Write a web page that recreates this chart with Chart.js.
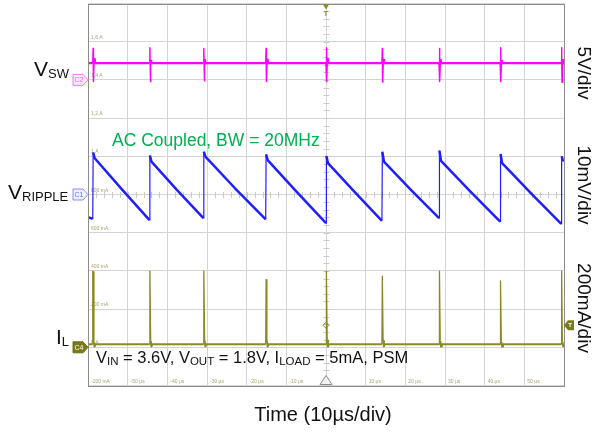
<!DOCTYPE html>
<html>
<head>
<meta charset="utf-8">
<title>PSM switching waveforms</title>
<script src="https://cdn.jsdelivr.net/npm/chart.js@4.4.1/dist/chart.umd.min.js"></script>
<style>
  html, body { margin: 0; padding: 0; background: #fff; }
  canvas { display: block; }
</style>
</head>
<body>
<canvas id="scope" width="593" height="432"></canvas>
<script>
'use strict';

/* ---- trace data (time in µs) ---- */

// switch node, V
const swTime = [-60,
  -58.8, -58.7, -58.65, -58.6, -58.45, -58.3,
  -44.5, -44.4, -44.35, -44.3, -44.15, -44.0,
  -30.9, -30.8, -30.75, -30.7, -30.55, -30.4,
  -15.2, -15.1, -15.05, -15.0, -14.85, -14.7,
  0.0, 0.1, 0.15, 0.2, 0.35, 0.5,
  14.1, 14.2, 14.25, 14.3, 14.45, 14.6,
  28.5, 28.6, 28.65, 28.7, 28.85, 29.0,
  43.9, 44.0, 44.05, 44.1, 44.25, 44.4,
  59.3, 59.4, 59.45, 59.5, 59.65, 59.8, 60];
const swVolt = [2.2,
  2.2, 4.1, 2.6, -0.2, 2.7, 2.2,
  2.2, 4.2, 2.5, -0.2, 2.6, 2.2,
  2.2, 4.1, 2.6, -0.1, 2.7, 2.2,
  2.2, 4.1, 2.5, -0.2, 2.6, 2.2,
  2.2, 4.2, 2.6, -0.2, 2.7, 2.2,
  2.2, 4.1, 2.5, -0.3, 2.6, 2.2,
  2.2, 4.1, 2.6, -0.2, 2.7, 2.2,
  2.2, 4.2, 2.5, -0.2, 2.6, 2.2,
  2.2, 4.2, 2.6, -0.3, 2.7, 2.2, 2.2];

// output ripple (AC coupled), mV
const ripTime = [-60, -58.8,
  -58.7, -58.3, -51.5, -44.5,
  -44.4, -44.0, -37.6, -30.9,
  -30.8, -30.4, -23.0, -15.2,
  -15.1, -14.7, -7.5, 0.0,
  0.1, 0.5, 7.2, 14.1,
  14.2, 14.6, 21.4, 28.5,
  28.6, 29.0, 36.3, 43.9,
  44.0, 44.4, 51.7, 59.3,
  59.4, 59.7, 60];
const ripMv = [-5.9, -6.4,
  11.0, 9.5, 1.4, -6.7,
  10.2, 8.6, 1.2, -6.2,
  11.2, 9.9, 1.7, -6.5,
  10.5, 9.0, 0.8, -7.5,
  10.1, 8.2, 0.7, -6.9,
  11.2, 8.6, 1.2, -6.2,
  11.5, 8.8, 0.9, -7.1,
  10.6, 8.2, 0.3, -7.7,
  10.0, 9.0, 8.8];

// inductor current, mA
const ilTime = [-60,
  -58.95, -58.85, -58.75, -58.6, -58.5, -58.35, -58.1,
  -44.5, -44.4, -44.2, -44.0, -43.8,
  -30.9, -30.8, -30.6, -30.4, -30.2,
  -15.2, -15.1, -14.9, -14.7, -14.5,
  0.0, 0.1, 0.3, 0.5, 0.7,
  14.1, 14.2, 14.4, 14.6, 14.8,
  28.5, 28.6, 28.8, 29.0, 29.2,
  43.9, 44.0, 44.2, 44.4, 44.6,
  59.3, 59.4, 59.6, 59.8, 60];
const ilMa = [16,
  16, 399, 30, 395, 25, 4, 16,
  16, 399, 35, 4, 16,
  16, 399, 35, 5, 16,
  16, 354, 32, 4, 16,
  16, 399, 35, 4, 16,
  16, 372, 33, 5, 16,
  16, 399, 35, 4, 16,
  16, 347, 30, 4, 16,
  16, 399, 30, 5, 16];

// on-screen graticule labels (C4 scale) and time labels
const ilGridValues = [1600, 1400, 1200, 1000, 800, 600, 400, 200, 0, -200];
const ilGridLabels = ['1,6 A', '1,4 A', '1,2 A', '1 A', '800 mA', '600 mA', '400 mA', '200 mA', '0 A', '-200 mA'];
const timeLabelValues = [-50, -40, -30, -20, -10, 10, 20, 30, 40, 50];

const trigTime = 0;
const trigLevelMa = 115;

const COLORS = {
  sw: '#ff00ff',
  rip: '#1f1fff',
  il: '#8a8a20',
  grid: '#d4d4d4',
  frame: '#8c8c8c',
  tiny: '#aaa274',
  note: '#00b050',
  text: '#111111',
};
const FONT = '"Liberation Sans", Arial, sans-serif';

const toPoints = (xs, ys) => xs.map((x, i) => ({ x, y: ys[i] }));

// fast edges (steep slope per µs) are drawn thinner than the slow parts
const edgeWidth = (slopeLimit, thin, thick) => ctx => {
  const dx = ctx.p1.parsed.x - ctx.p0.parsed.x;
  const dy = Math.abs(ctx.p1.parsed.y - ctx.p0.parsed.y);
  return dy > slopeLimit * dx ? thin : thick;
};

/* ---- drawing helpers ---- */
function richText(ctx, x, y, parts, size, subSize, color) {
  ctx.fillStyle = color;
  ctx.textAlign = 'left';
  ctx.textBaseline = 'alphabetic';
  let cx = x;
  for (const [txt, sub] of parts) {
    ctx.font = `${sub ? subSize : size}px ${FONT}`;
    ctx.fillText(txt, cx, sub ? y + 2 : y);
    cx += ctx.measureText(txt).width;
  }
}

function channelTag(ctx, tipX, y, label, stroke, fill, textColor) {
  ctx.beginPath();
  ctx.moveTo(tipX - 15, y - 5.5);
  ctx.lineTo(tipX - 5, y - 5.5);
  ctx.lineTo(tipX, y);
  ctx.lineTo(tipX - 5, y + 5.5);
  ctx.lineTo(tipX - 15, y + 5.5);
  ctx.closePath();
  ctx.fillStyle = fill;
  ctx.fill();
  ctx.strokeStyle = stroke;
  ctx.lineWidth = 1;
  ctx.stroke();
  ctx.fillStyle = textColor;
  ctx.font = `7px ${FONT}`;
  ctx.textAlign = 'center';
  ctx.textBaseline = 'middle';
  ctx.fillText(label, tipX - 9, y + 0.5);
}

const scopePlugin = {
  id: 'scopeDecor',
  beforeDatasetsDraw(chart) {
    const { ctx, chartArea: a, scales } = chart;
    const cx = scales.x.getPixelForValue(0);
    const cy = scales.yRip.getPixelForValue(0);
    const divX = (a.right - a.left) / 12;
    const divY = (a.bottom - a.top) / 10;
    ctx.save();

    // minor ticks on the centre axes
    ctx.strokeStyle = '#cacaca';
    ctx.lineWidth = 1;
    ctx.beginPath();
    for (let yy = a.top; yy <= a.bottom + 0.1; yy += divY / 5) {
      ctx.moveTo(cx - 2.5, Math.round(yy) + 0.5);
      ctx.lineTo(cx + 3.5, Math.round(yy) + 0.5);
    }
    for (let xx = a.left; xx <= a.right + 0.1; xx += divX / 5) {
      ctx.moveTo(Math.round(xx) + 0.5, cy - 2.5);
      ctx.lineTo(Math.round(xx) + 0.5, cy + 3.5);
    }
    ctx.stroke();

    // graticule labels
    ctx.font = `5px ${FONT}`;
    ctx.fillStyle = COLORS.tiny;
    ctx.textAlign = 'left';
    ctx.textBaseline = 'alphabetic';
    ilGridValues.forEach((v, i) => {
      ctx.fillText(ilGridLabels[i], a.left + 3, scales.yIl.getPixelForValue(v) - 3);
    });
    timeLabelValues.forEach(t => {
      ctx.fillText(`${t} µs`, scales.x.getPixelForValue(t) + 3, a.bottom - 3);
    });
    ctx.restore();
  },
  afterDatasetsDraw(chart) {
    const { ctx, chartArea: a, scales } = chart;
    const tx = scales.x.getPixelForValue(trigTime);
    const ty = scales.yIl.getPixelForValue(trigLevelMa);
    ctx.save();

    // frame
    ctx.strokeStyle = COLORS.frame;
    ctx.lineWidth = 1;
    ctx.strokeRect(Math.round(a.left) + 0.5, Math.round(a.top) + 0.5,
      Math.round(a.right - a.left), Math.round(a.bottom - a.top));

    // trigger position marker (top)
    ctx.fillStyle = COLORS.il;
    ctx.beginPath();
    ctx.moveTo(tx - 3, a.top + 1);
    ctx.lineTo(tx + 3, a.top + 1);
    ctx.lineTo(tx, a.top + 6);
    ctx.closePath();
    ctx.fill();
    ctx.font = `bold 7px ${FONT}`;
    ctx.textAlign = 'center';
    ctx.textBaseline = 'top';
    ctx.fillText('T', tx, a.top + 7);

    // time reference marker (bottom)
    ctx.beginPath();
    ctx.moveTo(tx, a.bottom - 10);
    ctx.lineTo(tx + 6, a.bottom - 1);
    ctx.lineTo(tx - 6, a.bottom - 1);
    ctx.closePath();
    ctx.fillStyle = '#f2f2f2';
    ctx.fill();
    ctx.strokeStyle = '#8c8c8c';
    ctx.stroke();

    // trigger point diamond
    ctx.strokeStyle = COLORS.il;
    ctx.beginPath();
    ctx.moveTo(tx, ty - 3);
    ctx.lineTo(tx + 3, ty);
    ctx.lineTo(tx, ty + 3);
    ctx.lineTo(tx - 3, ty);
    ctx.closePath();
    ctx.stroke();

    // trigger level tag (right edge)
    ctx.beginPath();
    ctx.moveTo(a.right, ty);
    ctx.lineTo(a.right + 4, ty - 5);
    ctx.lineTo(a.right + 10, ty - 5);
    ctx.lineTo(a.right + 10, ty + 5);
    ctx.lineTo(a.right + 4, ty + 5);
    ctx.closePath();
    ctx.fillStyle = '#7a7a1a';
    ctx.fill();
    ctx.fillStyle = '#fff';
    ctx.font = `bold 6px ${FONT}`;
    ctx.textBaseline = 'middle';
    ctx.fillText('T', a.right + 6, ty + 0.5);

    // channel ground tags (left edge)
    channelTag(ctx, a.left, scales.ySw.getPixelForValue(0), 'C2', '#ff70ff', '#ffeaff', '#ff60ff');
    channelTag(ctx, a.left, scales.yRip.getPixelForValue(0), 'C1', '#8c8cff', '#eef0ff', '#7070ff');
    channelTag(ctx, a.left, scales.yIl.getPixelForValue(0), 'C4', '#6e6e14', '#7a7a1a', '#ffffff');

    // trace names
    richText(ctx, 34, 76, [['V', false], ['SW', true]], 21, 13, COLORS.text);
    richText(ctx, 8, 199, [['V', false], ['RIPPLE', true]], 21, 13, COLORS.text);
    richText(ctx, 56, 344, [['I', false], ['L', true]], 21, 13, COLORS.text);

    // per-division settings, rotated
    ctx.fillStyle = COLORS.text;
    ctx.font = `19px ${FONT}`;
    ctx.textAlign = 'center';
    ctx.textBaseline = 'middle';
    [['5V/div', 73], ['10mV/div', 185], ['200mA/div', 308]].forEach(([txt, yc]) => {
      ctx.save();
      ctx.translate(583, yc);
      ctx.rotate(Math.PI / 2);
      ctx.fillText(txt, 0, 0);
      ctx.restore();
    });

    // notes
    ctx.fillStyle = COLORS.note;
    ctx.font = `17.5px ${FONT}`;
    ctx.textAlign = 'left';
    ctx.textBaseline = 'alphabetic';
    ctx.fillText('AC Coupled, BW = 20MHz', 112, 146);

    richText(ctx, 96, 363, [
      ['V', false], ['IN', true], [' = 3.6V, V', false], ['OUT', true],
      [' = 1.8V, I', false], ['LOAD', true], [' = 5mA, PSM', false],
    ], 16.5, 11.5, COLORS.text);

    ctx.fillStyle = COLORS.text;
    ctx.font = `20px ${FONT}`;
    ctx.textAlign = 'center';
    ctx.fillText('Time (10µs/div)', 323, 421);
    ctx.restore();
  },
};

const hiddenAxis = (min, max) => ({ type: 'linear', display: false, min, max });

new Chart(document.getElementById('scope'), {
  type: 'line',
  data: {
    datasets: [
      {
        label: 'IL', data: toPoints(ilTime, ilMa), yAxisID: 'yIl',
        borderColor: COLORS.il, borderWidth: 2,
        segment: { borderWidth: edgeWidth(300, 1.3, 2) },
      },
      {
        label: 'VSW', data: toPoints(swTime, swVolt), yAxisID: 'ySw',
        borderColor: COLORS.sw, borderWidth: 2.4,
        segment: { borderWidth: edgeWidth(5, 1.5, 2.4) },
      },
      {
        label: 'VRIPPLE', data: toPoints(ripTime, ripMv), yAxisID: 'yRip',
        borderColor: COLORS.rip, borderWidth: 2.5,
        segment: { borderWidth: edgeWidth(20, 1.2, 2.5) },
      },
    ],
  },
  options: {
    responsive: false,
    animation: false,
    events: [],
    layout: { padding: { left: 88, right: 29, top: 3.5, bottom: 46.5 } },
    elements: {
      point: { radius: 0 },
      line: { tension: 0, borderJoinStyle: 'round' },
    },
    plugins: { legend: { display: false }, tooltip: { enabled: false } },
    scales: {
      x: {
        type: 'linear', min: -60, max: 60,
        ticks: { stepSize: 10, display: false },
        grid: { color: COLORS.grid, drawTicks: false },
        border: { display: false },
      },
      y: {
        type: 'linear', min: 0, max: 10,
        ticks: { stepSize: 1, display: false },
        grid: { color: COLORS.grid, drawTicks: false },
        border: { display: false },
      },
      ySw: hiddenAxis(-40, 10),   // 5 V/div, ground two divisions from top
      yRip: hiddenAxis(-50, 50),  // 10 mV/div, centred
      yIl: hiddenAxis(-200, 1800), // 200 mA/div
    },
  },
  plugins: [scopePlugin],
});
</script>
</body>
</html>
